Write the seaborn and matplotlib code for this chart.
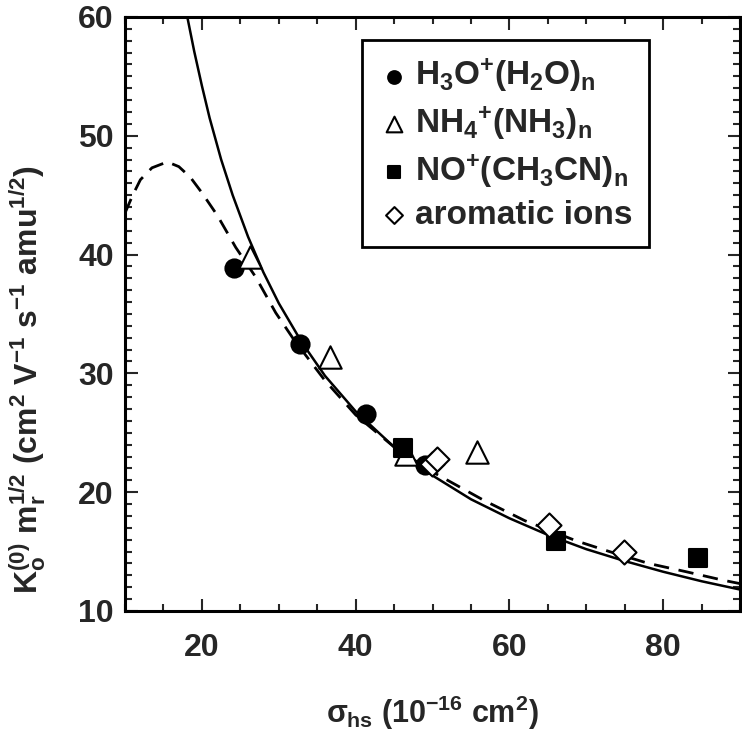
import matplotlib
matplotlib.use("Agg")
import matplotlib.pyplot as plt
import seaborn as sns
from matplotlib.ticker import MultipleLocator

# ---- data ----
h3o_x = [24.2, 32.8, 41.4, 49.0]
h3o_y = [38.9, 32.5, 26.6, 22.3]
nh4_x = [26.3, 36.7, 46.5, 55.8]
nh4_y = [39.8, 31.4, 23.2, 23.4]
no_x = [46.1, 66.1, 84.5]
no_y = [23.7, 15.9, 14.5]
aro_x = [49.9, 50.6, 65.1, 74.9]
aro_y = [22.4, 22.8, 17.2, 15.0]

solid_x = [18.1, 19, 20, 21, 22.5, 24, 26, 28, 30, 33, 36, 40, 45, 50, 55, 60, 65, 70, 75, 80, 85, 90]
solid_y = [60, 57.1, 54.2, 51.5, 48.0, 45.0, 41.5, 38.5, 35.9, 32.6, 29.8, 26.8, 23.8, 21.4, 19.4, 17.8, 16.4, 15.2, 14.2, 13.3, 12.5, 11.8]
dash_x = [10, 11, 12, 13.5, 15.5, 17, 18.5, 20, 22, 24.4, 27, 29.6, 32, 36, 40, 45, 50, 56.7, 62, 68.7, 73, 78.1, 83, 87.7, 90]
dash_y = [43.5, 45.0, 46.3, 47.3, 47.8, 47.4, 46.5, 45.2, 43.3, 40.6, 38.1, 35.1, 32.8, 29.4, 26.5, 23.8, 21.7, 19.3, 17.6, 15.9, 15.0, 14.0, 13.3, 12.6, 12.3]

labels = [r"$\mathrm{H_3O^{{+}}(H_2O)_n}$", r"$\mathrm{NH_4{}^{{+}}(NH_3)_n}$",
          r"$\mathrm{NO^{{+}}(CH_3CN)_n}$", "aromatic ions"]

sns.set_style("ticks")
plt.rcParams["font.family"] = ["Liberation Sans", "DejaVu Sans"]
plt.rcParams["font.weight"] = "bold"
plt.rcParams["mathtext.fontset"] = "custom"
plt.rcParams["mathtext.rm"] = "Liberation Sans:bold"
plt.rcParams["mathtext.it"] = "Liberation Sans:bold"
plt.rcParams["mathtext.bf"] = "Liberation Sans:bold"
plt.rcParams["mathtext.sf"] = "Liberation Sans:bold"

fig = plt.figure(figsize=(7.42, 7.37), dpi=100)
ax = fig.add_axes([0.1685, 0.171, 0.829, 0.806])

sns.lineplot(x=solid_x, y=solid_y, ax=ax, color="black", lw=1.8, sort=False)
sns.lineplot(x=dash_x, y=dash_y, ax=ax, color="black", lw=2.0, sort=False)
ax.lines[-1].set_linestyle((0, (5.5, 3.5)))

kw = dict(ax=ax, edgecolor="black", linewidth=1.5, zorder=5)
sns.scatterplot(x=h3o_x, y=h3o_y, marker="o", s=170, color="black", label=labels[0], **kw)
sns.scatterplot(x=nh4_x, y=nh4_y, marker="^", s=260, facecolor="white", label=labels[1], **kw)
sns.scatterplot(x=no_x, y=no_y, marker="s", s=170, color="black", label=labels[2], **kw)
sns.scatterplot(x=aro_x, y=aro_y, marker="D", s=150, facecolor="white", label=labels[3], **kw)

ax.set_xlim(10, 90)
ax.set_ylim(10, 60)
ax.xaxis.set_major_locator(MultipleLocator(20))
ax.xaxis.set_minor_locator(MultipleLocator(5))
ax.yaxis.set_major_locator(MultipleLocator(10))
ax.yaxis.set_minor_locator(MultipleLocator(1))
ax.tick_params(which="both", direction="in", top=True, right=True, width=1.5)
ax.tick_params(which="major", length=9, labelsize=23, pad=8)
ax.tick_params(axis="x", which="major", pad=16)
ax.tick_params(which="minor", length=5)
for lab in ax.get_xticklabels() + ax.get_yticklabels():
    lab.set_fontweight("bold")
for sp in ax.spines.values():
    sp.set_linewidth(2.2)
    sp.set_color("black")

ax.set_xlabel(r"$\sigma_{hs}$ (10$^{-16}$ cm$^2$)", fontsize=22, fontweight="bold", labelpad=22)
ax.set_ylabel(r"K$_o^{(0)}$ m$_r^{1/2}$ (cm$^2$ V$^{-1}$ s$^{-1}$ amu$^{1/2}$)",
              fontsize=23, fontweight="bold")
ax.yaxis.set_label_coords(-0.125, 0.39)

leg = ax.legend(loc="upper left", bbox_to_anchor=(0.385, 0.961), fontsize=24,
                frameon=True, fancybox=False, framealpha=1, edgecolor="black",
                handletextpad=0.2, borderpad=0.5, labelspacing=0.3,
                handlelength=0.9, markerscale=0.7, borderaxespad=0)
leg.get_frame().set_linewidth(2)
for t in leg.get_texts():
    t.set_fontweight("bold")

fig.savefig("out.png", dpi=100)
